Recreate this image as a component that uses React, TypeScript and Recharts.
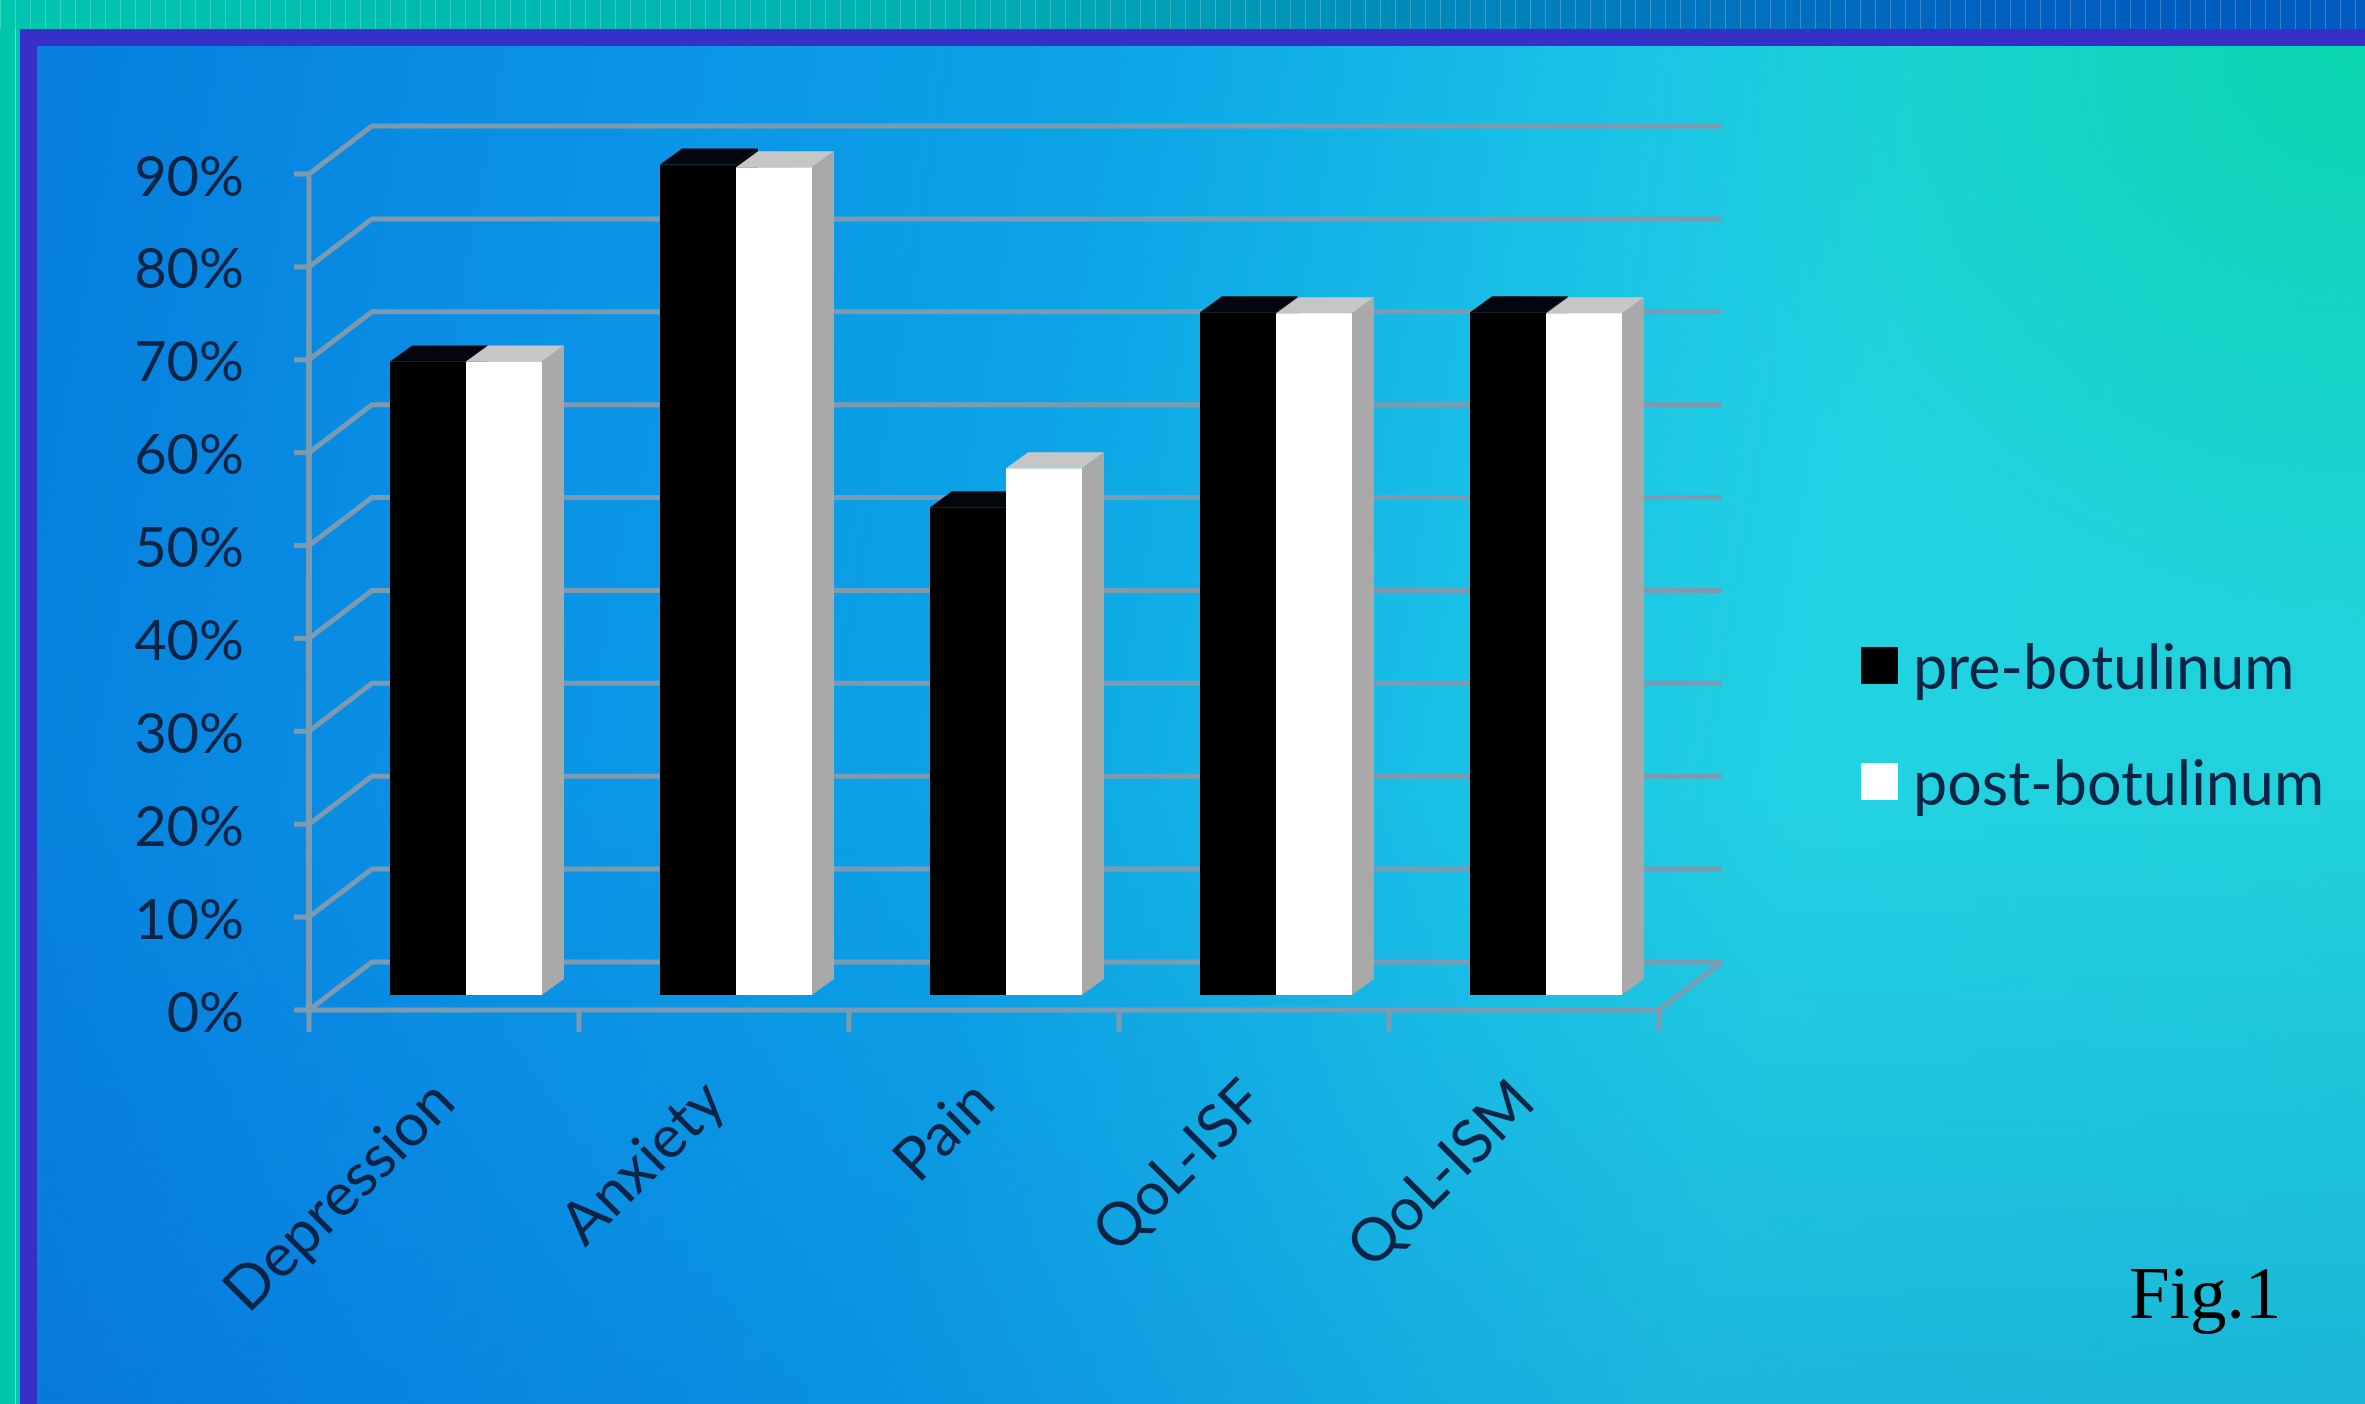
import { BarChart, Bar, XAxis, YAxis, CartesianGrid, Legend } from 'recharts';

const categories = ['Depression', 'Anxiety', 'Pain', 'QoL-ISF', 'QoL-ISM'];
const preBotulinum = [68.2, 89.4, 52.5, 73.5, 73.5];
const postBotulinum = [68.2, 89.1, 56.7, 73.4, 73.4];
const yTicks = [0, 10, 20, 30, 40, 50, 60, 70, 80, 90];
const seriesNames = ['pre-botulinum', 'post-botulinum'];

const data = categories.map((name, i) => ({
  name,
  pre: preBotulinum[i],
  post: postBotulinum[i],
}));

const W = 2365;
const H = 1404;
// bar plane (front faces of the columns)
const PLOT = { left: 331, top: 159, right: 1681, bottom: 995 };
const Y_AXIS_W = 100;
const X_AXIS_H = 100;
// offsets from the bar plane to the front edge and back wall of the 3d box
const FRONT = { dx: -22, dy: 15 };
const BACK = { dx: 41, dy: -33 };
const DEPTH = { dx: 22, dy: -16 };

const LINE = '#7d9bb0';
const TEXT = '#0b2344';
const FONT = "Lato, 'Open Sans', sans-serif";

const renderGridLine = (props: any) => {
  const { x1, x2, y1, index } = props;
  const fx = x1 + FRONT.dx;
  const fy = y1 + FRONT.dy;
  const by = y1 + BACK.dy;
  return (
    <g key={`grid-${index}-${y1}`}>
      <polyline
        points={`${fx},${fy} ${x1 + BACK.dx},${by} ${x2 + BACK.dx},${by}`}
        fill="none"
        stroke={LINE}
        strokeWidth={5}
      />
      <line x1={fx} y1={fy} x2={fx} y2={PLOT.bottom + FRONT.dy + 2} stroke={LINE} strokeWidth={5} />
    </g>
  );
};

const YTick = (props: any) => {
  const { y, payload } = props;
  const fx = PLOT.left + FRONT.dx;
  const fy = y + FRONT.dy;
  return (
    <g>
      <line x1={fx - 15} y1={fy} x2={fx} y2={fy} stroke={LINE} strokeWidth={5} />
      <text
        x={244}
        y={fy}
        textAnchor="end"
        dominantBaseline="central"
        fontFamily={FONT}
        fontSize={56}
        fill={TEXT}
      >
        {`${payload.value}%`}
      </text>
    </g>
  );
};

const XTick = (props: any) => {
  const { x, payload, index } = props;
  const band = (PLOT.right - PLOT.left) / categories.length;
  const cx = x + FRONT.dx;
  const fy = PLOT.bottom + FRONT.dy;
  const l = cx - band / 2;
  const r = cx + band / 2;
  const last = index === categories.length - 1;
  return (
    <g>
      <line x1={l} y1={fy} x2={r} y2={fy} stroke={LINE} strokeWidth={5} />
      <line x1={l} y1={fy} x2={l} y2={fy + 22} stroke={LINE} strokeWidth={5} />
      {last && (
        <>
          <line x1={r} y1={fy} x2={r} y2={fy + 22} stroke={LINE} strokeWidth={5} />
          <line
            x1={r}
            y1={fy}
            x2={r + BACK.dx - FRONT.dx}
            y2={fy + BACK.dy - FRONT.dy}
            stroke={LINE}
            strokeWidth={5}
          />
        </>
      )}
      <text
        transform={`translate(${cx + 14},${fy + 95}) rotate(-45)`}
        textAnchor="end"
        fontFamily={FONT}
        fontSize={60}
        fill={TEXT}
      >
        {payload.value}
      </text>
    </g>
  );
};

const makeBarShape = (front: string, top: string, side: string) => (props: any) => {
  const { x, y, width: w, height: h } = props;
  const { dx, dy } = DEPTH;
  return (
    <g>
      <polygon
        points={`${x + w},${y} ${x + w + dx},${y + dy} ${x + w + dx},${y + h + dy} ${x + w},${y + h}`}
        fill={side}
      />
      <polygon points={`${x},${y} ${x + dx},${y + dy} ${x + w + dx},${y + dy} ${x + w},${y}`} fill={top} />
      <rect x={x} y={y} width={w} height={h} fill={front} />
    </g>
  );
};

const preShape = makeBarShape('#000000', '#03070d', '#000000');
const postShape = makeBarShape('#ffffff', '#c6c6c6', '#a9a9a9');

const renderLegend = (props: any) => {
  const items = [...(props.payload ?? [])].sort(
    (a: any, b: any) => seriesNames.indexOf(a.value) - seriesNames.indexOf(b.value),
  );
  return (
    <div>
      {items.map((entry: any) => (
        <div key={entry.value} style={{ display: 'flex', alignItems: 'center', height: 116 }}>
          <span
            style={{
              display: 'inline-block',
              width: 37,
              height: 37,
              background: entry.color,
              marginRight: 15,
            }}
          />
          <span style={{ fontFamily: FONT, fontSize: 61, color: TEXT, lineHeight: 1 }}>{entry.value}</span>
        </div>
      ))}
    </div>
  );
};

export default function App() {
  return (
    <div
      style={{
        position: 'fixed',
        left: 0,
        top: 0,
        width: W,
        height: H,
        overflow: 'hidden',
        background: '#00c8b0',
      }}
    >
      {/* top strip */}
      <div
        style={{
          position: 'absolute',
          left: 0,
          top: 0,
          width: W,
          height: 29,
          background:
            'repeating-linear-gradient(90deg, rgba(255,255,255,0.22) 0px, rgba(255,255,255,0.22) 1px, transparent 1px, transparent 15px), linear-gradient(90deg, #00c6ae 0%, #00b0b2 40%, #0080bc 65%, #0060c0 85%, #005abf 100%)',
        }}
      />
      {/* left strip */}
      <div
        style={{
          position: 'absolute',
          left: 0,
          top: 29,
          width: 20,
          height: H - 29,
          background: 'linear-gradient(90deg, #00c6ae 0px, #00c6ae 15px, #4fe0d0 15px, #4fe0d0 16px, #00c6ae 16px)',
        }}
      />
      {/* purple frame */}
      <div style={{ position: 'absolute', left: 20, top: 29, width: W - 20, height: 17, background: '#3730c8' }} />
      <div style={{ position: 'absolute', left: 20, top: 29, width: 17, height: H - 29, background: '#3730c8' }} />
      {/* slide background */}
      <div
        style={{
          position: 'absolute',
          left: 37,
          top: 46,
          width: W - 37,
          height: H - 46,
          background:
            'radial-gradient(ellipse 700px 600px at 100% 0%, rgba(8,214,172,0.95) 0%, rgba(8,214,172,0.5) 45%, rgba(8,214,172,0) 100%), linear-gradient(to top, rgba(0,70,200,0.2) 0%, rgba(0,70,200,0) 45%), linear-gradient(100deg, #067edc 0%, #0a92e6 22%, #0ca4e6 42%, #1ac4e6 62%, #22d2e2 74%, #20d2da 100%)',
        }}
      />

      <div style={{ position: 'absolute', left: 0, top: 0 }}>
        <BarChart
          width={W}
          height={H}
          data={data}
          margin={{
            top: PLOT.top,
            left: PLOT.left - Y_AXIS_W,
            right: W - PLOT.right,
            bottom: H - PLOT.bottom - X_AXIS_H,
          }}
          barSize={76}
          barGap={0}
        >
          <CartesianGrid vertical={false} horizontal={renderGridLine} />
          <XAxis
            dataKey="name"
            interval={0}
            height={X_AXIS_H}
            axisLine={false}
            tickLine={false}
            tick={(p: any) => <XTick {...p} />}
          />
          <YAxis
            width={Y_AXIS_W}
            domain={[0, 90]}
            ticks={yTicks}
            axisLine={false}
            tickLine={false}
            tick={(p: any) => <YTick {...p} />}
          />
          <Legend
            layout="horizontal"
            verticalAlign="middle"
            align="center"
            content={renderLegend}
            wrapperStyle={{ left: 1861, top: 607, width: 520, height: 232 }}
          />
          <Bar dataKey="pre" name={seriesNames[0]} fill="#000000" shape={preShape} isAnimationActive={false} />
          <Bar dataKey="post" name={seriesNames[1]} fill="#ffffff" shape={postShape} isAnimationActive={false} />
        </BarChart>
      </div>

      <div
        style={{
          position: 'absolute',
          left: 2129,
          top: 1257,
          fontFamily: "'Liberation Serif', 'DejaVu Serif', serif",
          fontSize: 73,
          lineHeight: 1,
          color: '#000000',
        }}
      >
        Fig.1
      </div>
    </div>
  );
}
